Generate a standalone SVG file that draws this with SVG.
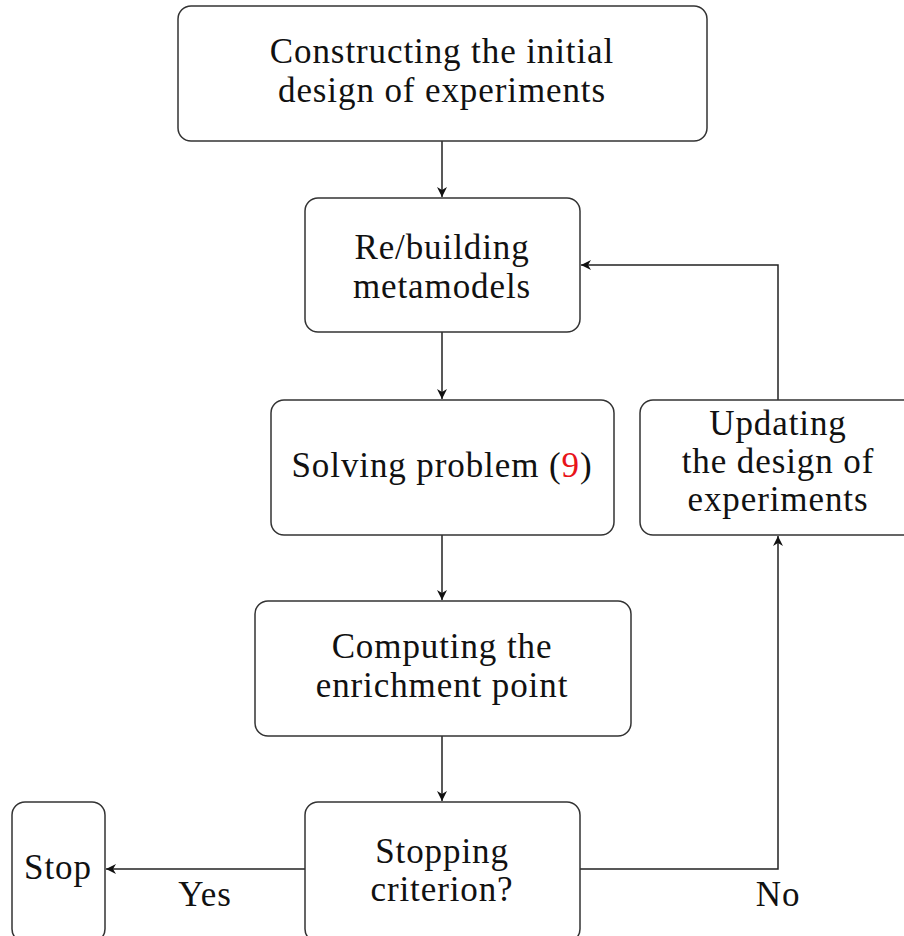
<svg xmlns="http://www.w3.org/2000/svg" width="904" height="936" viewBox="0 0 904 936">
<defs>
<marker id="ah" markerWidth="12" markerHeight="10" refX="10" refY="5" orient="auto" markerUnits="userSpaceOnUse">
<path d="M0,0 L10,5 L0,10 L3,5 Z" fill="#111"/>
</marker>
<style>
.box{fill:#fff;stroke:#333;stroke-width:1.5}
.t{font-family:"Liberation Serif","DejaVu Serif",serif;font-size:35px;letter-spacing:0.9px;fill:#111;text-anchor:middle}
.c{fill:none;stroke:#222;stroke-width:1.5}
</style>
</defs>
<rect width="904" height="936" fill="#fff"/>
<g id="connectors">
<line class="c" x1="442" y1="141" x2="442" y2="197" marker-end="url(#ah)"/>
<line class="c" x1="442" y1="332" x2="442" y2="399" marker-end="url(#ah)"/>
<line class="c" x1="442" y1="535" x2="442" y2="600" marker-end="url(#ah)"/>
<line class="c" x1="442" y1="736" x2="442" y2="801" marker-end="url(#ah)"/>
<polyline class="c" points="778,400 778,265 581,265" marker-end="url(#ah)"/>
<polyline class="c" points="580,869 778,869 778,536" marker-end="url(#ah)"/>
<line class="c" x1="305" y1="869" x2="106" y2="869" marker-end="url(#ah)"/>
<text class="t" x="205" y="906">Yes</text>
<text class="t" x="778" y="906">No</text>
</g>
<g id="n1">
<rect class="box" x="178" y="6" width="529" height="135" rx="13"/>
<text class="t" x="442" y="63">Constructing the initial</text>
<text class="t" x="442" y="102">design of experiments</text>
</g>
<g id="n2">
<rect class="box" x="305" y="198" width="275" height="134" rx="13"/>
<text class="t" x="442" y="259">Re/building</text>
<text class="t" x="442" y="298">metamodels</text>
</g>
<g id="n3">
<rect class="box" x="271" y="400" width="343" height="135" rx="13"/>
<text class="t" x="442" y="477">Solving problem (<tspan fill="#e8141a">9</tspan>)</text>
</g>
<g id="n4">
<rect class="box" x="255" y="601" width="376" height="135" rx="13"/>
<text class="t" x="442" y="658">Computing the</text>
<text class="t" x="442" y="697">enrichment point</text>
</g>
<g id="n5">
<rect class="box" x="305" y="802" width="275" height="140" rx="13"/>
<text class="t" x="442" y="863">Stopping</text>
<text class="t" x="442" y="901">criterion?</text>
</g>
<g id="n6">
<rect class="box" x="12" y="802" width="93" height="140" rx="13"/>
<text class="t" x="58" y="879">Stop</text>
</g>
<g id="n7">
<rect class="box" x="640" y="400" width="276" height="135" rx="13"/>
<text class="t" x="778" y="435">Updating</text>
<text class="t" x="778" y="473">the design of</text>
<text class="t" x="778" y="511">experiments</text>
</g>
</svg>
